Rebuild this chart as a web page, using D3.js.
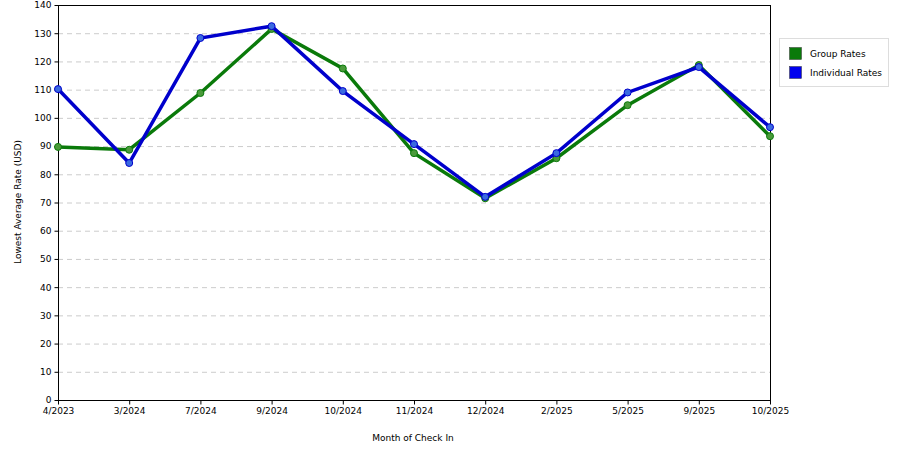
<!DOCTYPE html>
<html><head><meta charset="utf-8">
<script src="https://cdn.jsdelivr.net/npm/d3@7"></script>
<style>body{margin:0;background:#fff}text{font-family:"DejaVu Sans",Verdana,sans-serif;font-size:9px;fill:#000}</style>
</head><body><svg id="c" width="900" height="450"></svg>
<script>
const categories=["4/2023","3/2024","7/2024","9/2024","10/2024","11/2024","12/2024","2/2025","5/2025","9/2025","10/2025"];
const groupRates=[89.7,88.7,108.8,131.5,117.5,87.5,71.5,85.7,104.5,118.7,93.5];
const individualRates=[110.2,84.0,128.3,132.5,109.5,90.7,72.0,87.5,109.0,118.0,96.7];
const yTicks=d3.range(0,141,10);
const svg=d3.select("#c");
const L=58,R=770,T=5,B=400;
const x=d3.scalePoint().domain(categories).range([L,R]);
const y=d3.scaleLinear().domain([0,140]).range([B,T]);
svg.append("g").selectAll("line").data(yTicks.filter(d=>d>0&&d<140)).join("line")
 .attr("x1",L).attr("x2",R).attr("y1",d=>y(d)+.5).attr("y2",d=>y(d)+.5)
 .attr("stroke","#ccc").attr("stroke-dasharray","5,4");
svg.append("rect").attr("x",L+.5).attr("y",T+.5).attr("width",R-L).attr("height",B-T).attr("fill","none").attr("stroke","#000");
const ya=svg.append("g").attr("transform",`translate(${L+.5},0)`).call(d3.axisLeft(y).tickValues(yTicks).tickSize(4).tickPadding(3));
const xa=svg.append("g").attr("transform",`translate(0,${B+.5})`).call(d3.axisBottom(x).tickSize(4).tickPadding(3));
[ya,xa].forEach(a=>{a.select(".domain").remove();a.selectAll("text").style("font-family","DejaVu Sans").style("font-size","9px");});
svg.append("text").attr("x",(L+R)/2-1).attr("y",441).attr("text-anchor","middle").text("Month of Check In");
svg.append("text").attr("transform","translate(21,202) rotate(-90)").attr("text-anchor","middle").text("Lowest Average Rate (USD)");
function series(vals,col,pt){
 const line=d3.line().x((d,i)=>x(categories[i])).y(d=>y(d));
 svg.append("path").datum(vals).attr("d",line).attr("fill","none").attr("stroke",col).attr("stroke-width",3.5);
 svg.append("g").selectAll("circle").data(vals).join("circle").attr("cx",(d,i)=>x(categories[i])).attr("cy",d=>y(d)).attr("r",3.5).attr("fill",pt).attr("stroke",col).attr("stroke-width",1);
}
series(groupRates,"#0a7a0a","#4a9a3a");
series(individualRates,"#0000cc","#3a6ae0");
const lg=svg.append("g");
lg.append("rect").attr("x",779.5).attr("y",38.5).attr("width",109).attr("height",48).attr("fill","#fff").attr("stroke","#ddd");
[["Group Rates","#0a7a0a"],["Individual Rates","#0000ee"]].forEach((d,i)=>{
 lg.append("rect").attr("x",789.5).attr("y",47.5+i*19).attr("width",12).attr("height",12).attr("fill",d[1]).attr("stroke","#333").attr("stroke-width",.5);
 lg.append("text").attr("x",810).attr("y",57+i*19).text(d[0]);
});
</script></body></html>
